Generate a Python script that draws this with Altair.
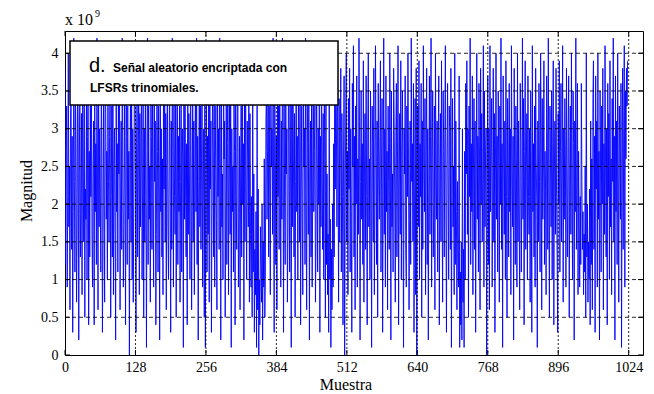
import altair as alt
import pandas as pd

# signal values in units of 1e8 (0.1 x 10^9)
seg0 = [38,12,27,33,9,21,40,17,25,6,31,36,14,29,3,19,42,23,11,35,28,7,16,39,30,2,24,37,13,20,32,8,41,26,15,34,5,22,18,36,10,29,40,4,27,13,33,21,38,16,9,25,31,4,35,19,28,12,42,24,6,37,17,30,22,11,39,26,3,14,34,20,7,41,32,18,27,10,36,23,15,29,38,5,21,33,13,40,8,25,30,16,2,37,19,28,11,35,24,39,6,20,31,14,42,26,9,17,34,22,4,38,29,12,33,18,27,0,23,36,15,40,10,30,7,21,35,41]
seg1 = [19,3,28,36,13,24,41,8,32,17,26,39,10,22,34,5,30,15,37,21,1,27,42,12,33,18,25,7,38,29,14,35,20,9,40,23,31,4,16,36,27,11,33,24,2,39,19,30,13,26,8,37,22,41,15,32,6,28,35,17,10,24,38,20,3,31,14,42,27,9,34,21,16,36,5,25,40,12,29,19,33,7,23,37,11,30,26,1,35,18,41,22,13,28,4,38,16,32,24,10,39,27,6,20,34,15,31,8,25,36,19,42,12,29,2,23,37,17,33,14,26,40,9,21,30,5,35,1]
seg2 = [24,38,11,29,16,34,7,41,22,31,3,19,36,27,13,40,9,25,33,18,6,37,21,30,14,42,28,2,35,17,24,10,39,26,31,5,20,36,12,28,41,8,23,34,16,38,1,30,19,25,11,35,27,4,40,21,14,32,37,9,18,29,6,24,33,13,38,20,28,2,35,15,41,22,10,31,26,17,39,7,32,16,9,21,5,38,11,24,3,14,8,19,1,33,6,22,0,10,4,17,12,7,20,2,15,9,26,5,11,31,36,18,27,40,13,33,22,8,38,25,30,16,42,20,3,35,28,12]
seg3 = [29,6,37,21,33,14,40,25,9,31,18,42,27,3,35,20,12,38,24,30,7,16,39,28,11,34,22,1,36,17,41,26,13,32,5,23,38,19,29,10,35,27,15,40,4,21,33,18,8,37,25,30,12,42,20,6,34,28,16,39,2,24,31,13,36,9,22,41,19,27,33,7,15,38,26,11,30,20,35,3,29,17,40,23,14,32,10,37,26,5,39,12,24,8,16,3,35,10,18,1,14,6,20,9,28,13,36,22,41,31,17,39,25,7,34,15,28,38,11,32,21,4,26,37,0,19,33]
seg4 = [40,15,27,8,34,22,38,11,30,19,3,36,25,41,13,29,6,33,20,37,9,26,16,42,31,2,23,35,18,28,12,39,7,24,32,14,37,21,4,30,40,17,26,10,35,22,1,33,28,15,38,8,20,41,27,12,31,5,36,24,18,29,39,11,25,34,3,21,42,16,30,9,37,19,27,6,33,23,14,40,28,2,35,17,24,11,38,31,20,7,29,36,13,26,41,4,22,32,16,39,10,27,35,19,1,30,24,37,14,9,33,21,40,26,6,18,31,12,42,23,28,15,36,3,20,34,8,38]
seg5 = [0,25,33,17,39,10,28,21,36,5,31,14,41,24,19,34,8,27,38,12,30,2,22,37,16,29,42,9,26,35,13,20,33,6,40,23,18,31,11,28,37,4,24,32,15,39,20,7,35,27,13,30,41,18,3,26,36,22,10,33,29,14,38,1,21,34,17,25,8,40,12,31,19,6,23,13,9,37,1,11,4,15,2,30,7,14,1,27,10,36,24,39,16,30,5,33,21,42,12,28,19,37,8,25,34,14,31,3,22,40,18,29,11,36,26,6,38,20,32,15,24,41,9,35,17,27,30,0]
seg6 = [23,37,12,30,6,41,19,27,34,9,22,38,15,32,3,26,40,18,29,11,35,24,7,33,20,42,14,28,1,37,25,16,31,10,39,21,5,34,27,13,36,19,30,8,41,24,17,29,2,38,22,12,33,26,9,40,15,31,20,6,36,28,11,23,42,18,34,4,27,39,14,25,32,10,37,21,16,30,7,35,24,3,41,19,28,13,33,9,38,26,20,1,31,15,36,23,11,40,29,6,34,18,25,39,12,27,22,8,37,30,14,42,20,5,33,26,17,35,10,28,39,4,24,31,16,38,21,13]
seg7 = [3,32,20,39,11,27,36,15,24,41,7,30,18,34,26,9,38,22,13,29,37,5,25,33,16,40,21,10,35,28,2,31,19,42,14,24,36,8,27,17,9,21,12,36,23,14,19,8,16,11,25,5,40,13,20,7,15,10,22,4,31,12,26,6,34,39,14,29,3,37,22,31,9,40,18,27,2,35,24,11,33,20,38,6,28,16,41,25,13,30,4,36,21,32,10,39,17,26,8,34,23,42,15,29,2,37,19,31,12,40,24,7,33,27,18,36,1,22,38,14,30,41,9,35,26,38,33,39]

x_ticks = [0, 128, 256, 384, 512, 640, 768, 896, 1024]
y_ticks = [0, 0.5, 1, 1.5, 2, 2.5, 3, 3.5, 4]

vals = seg0 + seg1 + seg2 + seg3 + seg4 + seg5 + seg6 + seg7
df = pd.DataFrame({"i": list(range(len(vals))), "v": [v / 10 for v in vals]})

W, H = 578, 324
serif = "Liberation Serif"
sans = "Liberation Sans"

xs = alt.Scale(domain=[0, 1050], nice=False, zero=False)
ys = alt.Scale(domain=[0, 4.295], nice=False, zero=False)

x_axis = alt.Axis(
    values=x_ticks, grid=False, ticks=False, domain=False, labelFont=serif,
    labelFontSize=14, labelColor="#000", labelPadding=5, title=None,
    labelFlush=False, format="d")
y_axis = alt.Axis(
    values=y_ticks, grid=False, ticks=False, domain=False, labelFont=serif,
    labelFontSize=14, labelColor="#000", labelPadding=7, title=None, format="~g")

line = alt.Chart(df).mark_line(color="#0000ff", strokeWidth=0.9, clip=True).encode(
    x=alt.X("i:Q", scale=xs, axis=x_axis),
    y=alt.Y("v:Q", scale=ys, axis=y_axis),
)

xt = pd.DataFrame({"t": x_ticks[1:]})
yt = pd.DataFrame({"t": y_ticks[1:]})
xt_all = pd.DataFrame({"t": x_ticks})
yt_all = pd.DataFrame({"t": y_ticks})

gx = alt.Chart(xt).mark_rule(color="#000", strokeWidth=1, strokeDash=[2, 2], opacity=0.85).encode(
    x=alt.X("t:Q", scale=xs, axis=x_axis), y=alt.value(0), y2=alt.value(H))
gy = alt.Chart(yt).mark_rule(color="#000", strokeWidth=1, strokeDash=[4, 3], opacity=0.85).encode(
    y=alt.Y("t:Q", scale=ys, axis=y_axis), x=alt.value(0), x2=alt.value(W))

tb = alt.Chart(xt_all).mark_rule(color="#000", strokeWidth=1).encode(
    x=alt.X("t:Q", scale=xs, axis=x_axis), y=alt.value(H), y2=alt.value(H - 5))
tt = alt.Chart(xt_all).mark_rule(color="#000", strokeWidth=1).encode(
    x=alt.X("t:Q", scale=xs, axis=x_axis), y=alt.value(0), y2=alt.value(5))
tl = alt.Chart(yt_all).mark_rule(color="#000", strokeWidth=1).encode(
    y=alt.Y("t:Q", scale=ys, axis=y_axis), x=alt.value(0), x2=alt.value(5))
tr = alt.Chart(yt_all).mark_rule(color="#000", strokeWidth=1).encode(
    y=alt.Y("t:Q", scale=ys, axis=y_axis), x=alt.value(W - 5), x2=alt.value(W))

one = pd.DataFrame({"a": [0]})
box = alt.Chart(one).mark_rect(fill="white", stroke="#000", strokeWidth=1.5).encode(
    x=alt.value(5), x2=alt.value(273), y=alt.value(10), y2=alt.value(74))
t_d = alt.Chart(one).mark_text(text="d.", font=sans, fontSize=20, align="left",
                               baseline="alphabetic", color="#000").encode(
    x=alt.value(24), y=alt.value(41))
t_1 = alt.Chart(one).mark_text(text="Señal aleatorio encriptada con", font=sans, fontSize=12,
                               fontWeight="bold", align="left", baseline="alphabetic",
                               color="#000").encode(x=alt.value(48), y=alt.value(41))
t_2 = alt.Chart(one).mark_text(text="LFSRs trinomiales.", font=sans, fontSize=12,
                               fontWeight="bold", align="left", baseline="alphabetic",
                               color="#000").encode(x=alt.value(25), y=alt.value(61))
t_x10 = alt.Chart(one).mark_text(text="x 10", font=serif, fontSize=16, align="left",
                                 baseline="alphabetic", color="#000").encode(
    x=alt.value(0), y=alt.value(-6))
t_9 = alt.Chart(one).mark_text(text="9", font=serif, fontSize=10, align="left",
                               baseline="alphabetic", color="#000").encode(
    x=alt.value(30), y=alt.value(-14))
t_xl = alt.Chart(one).mark_text(text="Muestra", font=serif, fontSize=16, align="center",
                                baseline="alphabetic", color="#000").encode(
    x=alt.value(281), y=alt.value(359))
t_yl = alt.Chart(one).mark_text(text="Magnitud", font=serif, fontSize=16, align="center",
                                baseline="middle", angle=270, color="#000").encode(
    x=alt.value(-38), y=alt.value(160))

chart = alt.layer(line, gx, gy, tb, tt, tl, tr, box, t_d, t_1, t_2, t_x10, t_9,
                  t_xl, t_yl).properties(
    width=W, height=H,
    autosize=alt.AutoSizeParams(type="none"),
    padding={"left": 57, "top": 23, "right": 2, "bottom": 40},
    background="white",
).configure_view(stroke="#000", strokeWidth=1)

chart.save("out.html", embed_options={"renderer": "svg", "actions": False})
